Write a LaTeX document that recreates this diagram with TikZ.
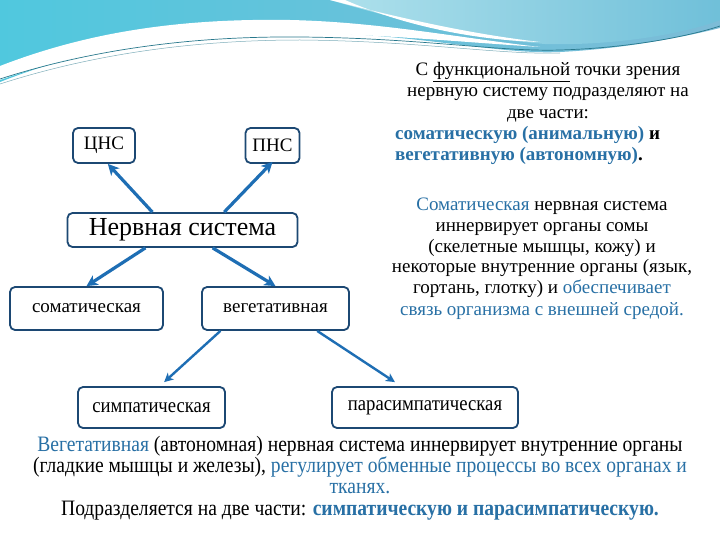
\documentclass[tikz,border=0pt]{standalone}
\usepackage{fontspec}
\setmainfont{Liberation Serif}
\newfontfamily\condfont[FakeStretch=0.89]{Liberation Serif}
\usetikzlibrary{arrows.meta,calc}
\definecolor{boxline}{RGB}{28,72,115}
\definecolor{arrowblue}{RGB}{30,110,180}
\definecolor{txtblue}{RGB}{40,112,165}
\definecolor{bgcyan}{RGB}{80,200,222}
\definecolor{bgsteel}{RGB}{125,188,215}
\definecolor{bglight}{RGB}{175,225,236}
\definecolor{bgline}{RGB}{40,120,140}
\begin{document}
\begin{tikzpicture}[x=1pt,y=-1pt,
  box/.style={draw=boxline, line width=1.8pt, rounded corners=5pt, fill=white, inner sep=0pt, text=black},
  arr/.style={draw=arrowblue, line width=3.2pt, -{Stealth[length=11pt,width=11pt,inset=3pt]}},
  arrthin/.style={draw=arrowblue, line width=2.4pt, -{Stealth[length=9pt,width=9pt,inset=2.5pt]}},
  txt/.style={inner sep=0pt, text height=0.68em, text depth=0.22em, font=\fontsize{19}{21}\selectfont},
  btxt/.style={inner sep=0pt, text height=0.68em, text depth=0.22em, font=\condfont\fontsize{22}{24}\selectfont}
]
\useasboundingbox (0,0) rectangle (720,540);
\fill[white] (0,0) rectangle (720,540);
% background decoration
\shade[left color=bgcyan, right color=bgsteel]
  (0,0) -- (720,0) -- (720,28) .. controls (680,38) and (620,49) .. (560,52)
  .. controls (500,55) and (420,34) .. (300,32) .. controls (180,30) and (80,50) .. (0,82) -- cycle;
\shade[left color=bglight, right color=bgsteel!70!bgcyan]
  (330,0) .. controls (400,20) and (470,38) .. (545,44) .. controls (620,46) and (690,32) .. (720,20) -- (720,0) -- cycle;
\fill[white] (330,0) .. controls (400,18) and (470,34) .. (540,42)
  .. controls (470,40) and (400,24) .. (345,0) -- cycle;
\fill[white] (0,66) .. controls (80,35) and (170,18) .. (290,20) .. controls (380,22) and (460,38) .. (540,47)
  .. controls (460,42) and (380,34) .. (290,33) .. controls (180,32) and (80,52) .. (0,80) -- cycle;
\draw[bgline, line width=0.7pt] (0,79) .. controls (90,50) and (190,36) .. (300,37)
  .. controls (420,38) and (500,52) .. (560,50) .. controls (630,48) and (690,36) .. (720,26);
\draw[bgline!60, line width=0.5pt] (0,84) .. controls (90,55) and (190,40) .. (300,40)
  .. controls (420,41) and (500,55) .. (560,53);

% boxes
\node[box, minimum width=62pt, minimum height=35pt, font=\fontsize{19}{21}\selectfont] (cns) at (104,145.5) {ЦНС};
\node[box, minimum width=54pt, minimum height=35pt, font=\fontsize{19}{21}\selectfont] (pns) at (272.5,145.5) {ПНС};
\node[box, minimum width=230pt, minimum height=34pt, font=\fontsize{26}{28}\selectfont] (ns) at (182.5,230) {Нервная система};
\node[box, minimum width=153pt, minimum height=43pt, font=\fontsize{19}{21}\selectfont] (som) at (86.5,308.5) {соматическая};
\node[box, minimum width=147pt, minimum height=43pt, font=\fontsize{19}{21}\selectfont] (veg) at (275.5,308.5) {вегетативная};
\node[box, minimum width=147pt, minimum height=41pt, font=\condfont\fontsize{21}{23}\selectfont] (sym) at (151.5,407.5) {симпатическая};
\node[box, minimum width=186pt, minimum height=41pt, font=\condfont\fontsize{21}{23}\selectfont] (par) at (425,407.5) {парасимпатическая};

% arrows
\draw[arr] ($(ns.north west)!0.37!(ns.north east)$) -- ($(cns.south west)!0.56!(cns.south east)$);
\draw[arr] ($(ns.north west)!0.68!(ns.north east)$) -- ($(pns.south)+(0,-2)$);
\draw[arr] ($(ns.south west)!0.34!(ns.south east)$) -- (som.north);
\draw[arr] ($(ns.south west)!0.63!(ns.south east)$) -- (veg.north);
\draw[arrthin] ($(veg.south west)!0.13!(veg.south east)$) -- ($(sym.north west)!0.585!(sym.north east)+(0,-4)$);
\draw[arrthin] ($(veg.south west)!0.78!(veg.south east)$) -- ($(par.north west)!0.34!(par.north east)+(0,-4)$);

% right top text
\node[txt] (r1) at (548,73) {С \underline{функциональной} точки зрения};
\node[txt] (r2) at (548,94) {нервную систему подразделяют на};
\node[txt] (r3) at (548,116) {две части:};
\node[txt, anchor=west] (r4) at (395,137) {\bfseries\textcolor{txtblue}{соматическую (анимальную)} и};
\node[txt, anchor=west] (r5) at (395,158) {\bfseries\textcolor{txtblue}{вегетативную (автономную)}.};

% right middle text
\node[txt] (m1) at (542,208) {\textcolor{txtblue}{Соматическая} нервная система};
\node[txt] (m2) at (542,229) {иннервирует органы сомы};
\node[txt] (m3) at (542,250) {(скелетные мышцы, кожу) и};
\node[txt] (m4) at (542,270) {некоторые внутренние органы (язык,};
\node[txt] (m5) at (542,291) {гортань, глотку) и \textcolor{txtblue}{обеспечивает}};
\node[txt] (m6) at (542,313) {\textcolor{txtblue}{связь организма с внешней средой.}};

% bottom text
\node[btxt] (b1) at (360,449) {\textcolor{txtblue}{Вегетативная} (автономная) нервная система иннервирует внутренние органы};
\node[btxt] (b2) at (360,470) {(гладкие мышцы и железы), \textcolor{txtblue}{регулирует обменные процессы во всех органах и}};
\node[btxt] (b3) at (360,491) {\textcolor{txtblue}{тканях.}};
\node[btxt] (b4) at (360,513) {Подразделяется на две части: \textcolor{txtblue}{\bfseries симпатическую и парасимпатическую.}};
\end{tikzpicture}
\end{document}
